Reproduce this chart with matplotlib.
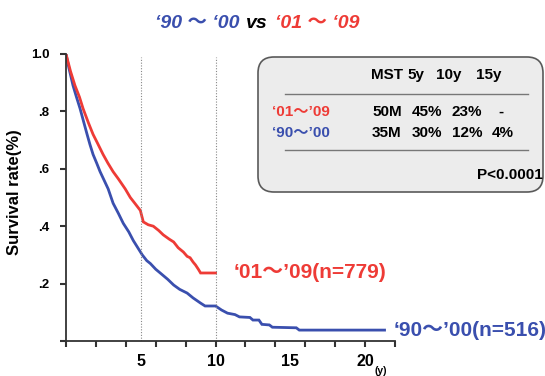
import matplotlib
matplotlib.use('Agg')
import matplotlib.pyplot as plt
from matplotlib.patches import FancyBboxPatch
from matplotlib.transforms import IdentityTransform

plt.rcParams['font.family'] = ['Liberation Sans', 'Noto Sans CJK JP']
plt.rcParams['font.weight'] = 'bold'

RED = '#ee3b36'
BLUE = '#3a4fae'

# '01~'09 survival curve (years, survival)
t_new = [0, 0.15, 0.3, 0.6, 0.9, 1.14, 1.5, 1.81, 2.1, 2.48, 2.8, 3.15, 3.5, 3.96,
         4.3, 4.6, 4.97, 5.17, 5.5, 5.84, 6.2, 6.5, 6.9, 7.2, 7.5, 7.85, 8.1, 8.3,
         8.5, 8.66, 8.85, 9.0, 10.0]
s_new = [1.0, 0.97, 0.94, 0.89, 0.85, 0.81, 0.76, 0.72, 0.69, 0.65, 0.62, 0.59, 0.565, 0.53,
         0.50, 0.48, 0.455, 0.415, 0.405, 0.40, 0.385, 0.37, 0.355, 0.345, 0.325, 0.31, 0.295, 0.29,
         0.275, 0.265, 0.25, 0.237, 0.237]

# '90~'00 survival curve
t_old = [0, 0.2, 0.47, 0.7, 0.94, 1.2, 1.41, 1.6, 1.81, 2.05, 2.28, 2.55, 2.82, 3.15,
         3.5, 3.83, 4.2, 4.5, 4.8, 5.1, 5.4, 5.64, 6.0, 6.3, 6.8, 7.2, 7.6, 8.1,
         8.5, 9.0, 9.3, 10.0, 10.4, 10.8, 11.3, 11.6, 12.3, 12.5, 12.9, 13.1, 13.6,
         13.8, 15.4, 15.6, 21.3]
s_old = [1.0, 0.95, 0.89, 0.85, 0.81, 0.76, 0.72, 0.685, 0.65, 0.62, 0.59, 0.56, 0.53, 0.48,
         0.445, 0.41, 0.38, 0.35, 0.325, 0.30, 0.28, 0.27, 0.25, 0.237, 0.215, 0.195, 0.18, 0.167,
         0.15, 0.132, 0.122, 0.122, 0.108, 0.097, 0.092, 0.084, 0.082, 0.073, 0.073, 0.058, 0.056,
         0.048, 0.046, 0.038, 0.038]

table_head = ['MST', '5y', '10y', '15y']
table_rows = [('‘01～’09', ['50M', '45%', '23%', '-'], RED),
              ('‘90～’00', ['35M', '30%', '12%', '4%'], BLUE)]
p_text = 'P<0.0001'

W, H = 545, 376
fig = plt.figure(figsize=(W / 100, H / 100), dpi=100)
ax = fig.add_axes([66 / W, 1 - 341 / H, (395 - 66) / W, (341 - 54) / H])

ax.plot(t_old, s_old, color=BLUE, lw=2.0, solid_joinstyle='miter')
ax.plot(t_new, s_new, color=RED, lw=2.0, solid_joinstyle='miter')
ax.vlines([5, 10], 0, 0.99, colors='#888888', linestyles=(0, (1, 1.5)), lw=0.8)

ax.set_xlim(0, 22)
ax.set_ylim(0, 1.0)
for s in ['top', 'right']:
    ax.spines[s].set_visible(False)
for s in ['left', 'bottom']:
    ax.spines[s].set_color('#333333')
    ax.spines[s].set_linewidth(1.3)

ax.xaxis.remove_overlapping_locs = False
ax.set_xticks(range(0, 23, 2))
ax.set_xticklabels([])
ax.set_xticks([5, 10, 15, 20], minor=True)
ax.set_xticklabels(['5', '10', '15', '20'], minor=True, fontsize=11.5, fontweight='bold')
ax.tick_params(axis='x', which='major', length=4, width=1.5, color='#333333')
ax.tick_params(axis='x', which='minor', length=0, pad=9)
ax.set_yticks([0, 0.2, 0.4, 0.6, 0.8, 1.0])
ax.set_yticklabels(['', '.2', '.4', '.6', '.8', '1.0'], fontsize=9.5, fontweight='bold')
ax.tick_params(axis='y', length=4, width=1.5, color='#333333', pad=8)
ax.set_ylabel('Survival rate(%)', fontsize=12, fontweight='bold')
ax.yaxis.set_label_coords((22 - 66) / 329, 1 - (192 - 54) / 287)

ax.text(11.2, 0.237, '‘01～’09(n=779)', color=RED, fontsize=15,
        fontweight='bold', va='center', ha='left')
ax.text(21.9, 0.038, '‘90～’00(n=516)', color=BLUE, fontsize=15,
        fontweight='bold', va='center', ha='left')
fig.text(381 / W, 1 - 371 / H, '(y)', fontsize=7.5, ha='center', va='center')

# title
fig.text(155 / W, 1 - 23 / H, '‘90 ～ ‘00', color=BLUE, fontsize=14, fontweight='bold',
         fontstyle='italic', va='center', ha='left')
fig.text(257 / W, 1 - 23 / H, 'vs', color='black', fontsize=14, fontweight='bold',
         fontstyle='italic', va='center', ha='center')
fig.text(275 / W, 1 - 23 / H, '‘01 ～ ‘09', color=RED, fontsize=14, fontweight='bold',
         fontstyle='italic', va='center', ha='left')

# table box (pixel coords)
box = FancyBboxPatch((258 + 16, H - 192 + 16), 543 - 258 - 32, 192 - 57 - 32,
                     boxstyle='round,pad=16', transform=IdentityTransform(),
                     facecolor='#ececec', edgecolor='#5a5a5a', lw=1.2)
fig.patches.append(box)

def fx(x):
    return x / W

def fy(y):
    return 1 - y / H

col_x = [371, 407, 436, 476]
for x, s in zip(col_x, table_head):
    fig.text(fx(x), fy(75), s, fontsize=11, fontweight='bold', va='center', ha='left')
fig.add_artist(plt.Line2D([fx(285), fx(528)], [fy(94), fy(94)], color='#777777', lw=1))
fig.add_artist(plt.Line2D([fx(285), fx(528)], [fy(150), fy(150)], color='#777777', lw=1))
row_y = [112, 133]
val_x = [[372, 412, 452, 498], [372, 412, 452, 492]]
for (name, vals, c), y, xs in zip(table_rows, row_y, val_x):
    fig.text(fx(272), fy(y), name, color=c, fontsize=11, fontweight='bold', va='center', ha='left')
    for x, v in zip(xs, vals):
        fig.text(fx(x), fy(y), v, fontsize=11, fontweight='bold', va='center', ha='left')
fig.text(fx(543), fy(175), p_text, fontsize=11, fontweight='bold', va='center', ha='right')

fig.savefig('out.png', dpi=100)
